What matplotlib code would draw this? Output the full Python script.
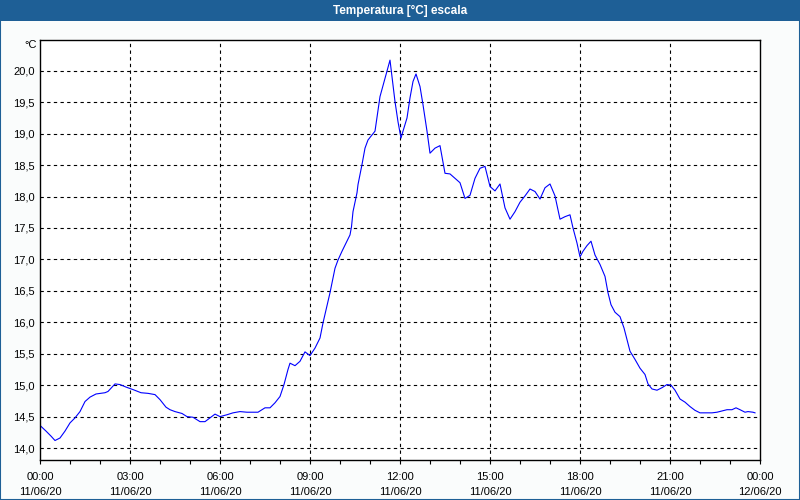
import matplotlib
matplotlib.use("Agg")
import matplotlib.pyplot as plt
from matplotlib.patches import Rectangle

# minutes since 00:00 on 11/06/20
minutes = [0, 12, 22, 30, 40, 50, 60, 70, 80, 90, 100, 112, 130, 136, 150, 160,
           172, 186, 202, 216, 230, 240, 252, 260, 270, 284, 294, 306, 320, 330,
           340, 350, 360, 374, 386, 400, 414, 436, 450, 460, 470, 480, 488, 496,
           500, 510, 520, 530, 540, 550, 560, 566, 580, 590, 596, 604, 620, 623,
           626, 634, 636, 644, 650, 656, 664, 670, 680, 690, 700, 710, 716, 722,
           726, 734, 740, 746, 752, 760, 766, 774, 780, 790, 800, 810, 820, 830,
           840, 850, 860, 870, 880, 890, 900, 910, 920, 930, 940, 950, 960, 970,
           980, 990, 1000, 1010, 1020, 1030, 1040, 1050, 1060, 1066, 1074, 1080,
           1086, 1094, 1102, 1110, 1120, 1130, 1136, 1142, 1150, 1160, 1168, 1180,
           1190, 1200, 1210, 1216, 1224, 1234, 1244, 1254, 1262, 1270, 1280, 1290,
           1300, 1310, 1320, 1334, 1344, 1354, 1364, 1374, 1384, 1392, 1400, 1410,
           1416, 1426, 1430]
temps = [14.36, 14.27, 14.19, 14.12, 14.16, 14.27, 14.40, 14.48, 14.58, 14.74,
         14.81, 14.86, 14.88, 14.90, 15.02, 15.01, 14.97, 14.93, 14.88, 14.87,
         14.85, 14.77, 14.65, 14.61, 14.58, 14.55, 14.50, 14.49, 14.42, 14.42,
         14.48, 14.54, 14.50, 14.53, 14.56, 14.58, 14.57, 14.57, 14.64, 14.64,
         14.72, 14.82, 15.01, 15.25, 15.35, 15.31, 15.38, 15.53, 15.47, 15.59,
         15.75, 15.99, 16.47, 16.86, 16.99, 17.13, 17.39, 17.52, 17.76, 18.06,
         18.19, 18.51, 18.77, 18.90, 18.98, 19.04, 19.59, 19.88, 20.17, 19.51,
         19.19, 18.93, 19.04, 19.25, 19.57, 19.83, 19.95, 19.75, 19.46, 19.04,
         18.69, 18.77, 18.81, 18.37, 18.36, 18.29, 18.22, 17.97, 18.02, 18.29,
         18.45, 18.48, 18.16, 18.09, 18.20, 17.82, 17.64, 17.76, 17.91, 18.01,
         18.12, 18.08, 17.96, 18.14, 18.20, 18.01, 17.64, 17.68, 17.71, 17.50,
         17.26, 17.04, 17.13, 17.22, 17.29, 17.07, 16.92, 16.73, 16.47, 16.28,
         16.16, 16.09, 15.91, 15.54, 15.41, 15.27, 15.17, 15.02, 14.94, 14.92,
         14.96, 15.01, 15.00, 14.92, 14.78, 14.73, 14.66, 14.60, 14.56, 14.56,
         14.56, 14.57, 14.59, 14.61, 14.61, 14.64, 14.61, 14.57, 14.58, 14.57,
         14.56]

y_ticks = [14.0, 14.5, 15.0, 15.5, 16.0, 16.5, 17.0, 17.5, 18.0, 18.5, 19.0, 19.5, 20.0]
x_major = [0, 180, 360, 540, 720, 900, 1080, 1260, 1440]
x_labels = ["00:00\n11/06/20", "03:00\n11/06/20", "06:00\n11/06/20", "09:00\n11/06/20",
            "12:00\n11/06/20", "15:00\n11/06/20", "18:00\n11/06/20", "21:00\n11/06/20",
            "00:00\n12/06/20"]
x_minor = list(range(0, 1441, 60))

bar_color = "#1e5f96"
font = "Liberation Sans"

fig = plt.figure(figsize=(8, 5), dpi=100, facecolor="#fafcfc")

# title bar + window border
fig.patches.append(Rectangle((0, 0.958), 1, 0.042, transform=fig.transFigure,
                             facecolor=bar_color, edgecolor="none", zorder=0))
fig.patches.append(Rectangle((0.0006, 0.001), 0.9988, 0.998, transform=fig.transFigure,
                             facecolor="none", edgecolor=bar_color, linewidth=1.5, zorder=5))
fig.text(0.5, 0.979, "Temperatura [°C] escala", color="white", fontsize=8.5,
         fontweight="bold", family=font, ha="center", va="center")

ax = fig.add_axes([0.05, 0.08, 0.9, 0.84])
ax.set_facecolor("white")
ax.plot(minutes, temps, color="#0000ff", linewidth=0.8)

ax.set_xlim(0, 1440)
ax.set_ylim(13.81, 20.49)

ax.set_yticks(y_ticks)
ax.set_yticklabels([("%.1f" % v).replace(".", ",") for v in y_ticks],
                   fontsize=8, family=font)
ax.set_xticks(x_major)
ax.set_xticklabels(x_labels, fontsize=8, family=font, linespacing=1.6)
ax.set_xticks(x_minor, minor=True)

ax.tick_params(axis="y", length=0, pad=4)
ax.tick_params(axis="x", which="both", length=3, width=0.8, direction="out", pad=6)

# dashed grid
for v in y_ticks:
    ax.axhline(v, color="black", linestyle=(0, (3, 3)), linewidth=0.8, zorder=1)
for m in x_major[1:-1]:
    ax.axvline(m, color="black", linestyle=(0, (3, 3)), linewidth=0.8, zorder=1)

for s in ax.spines.values():
    s.set_color("black")
    s.set_linewidth(1)

fig.text(0.031, 0.91, "°C", fontsize=8, family=font, ha="left", va="center")

fig.savefig("out.png", dpi=100, facecolor=fig.get_facecolor())
